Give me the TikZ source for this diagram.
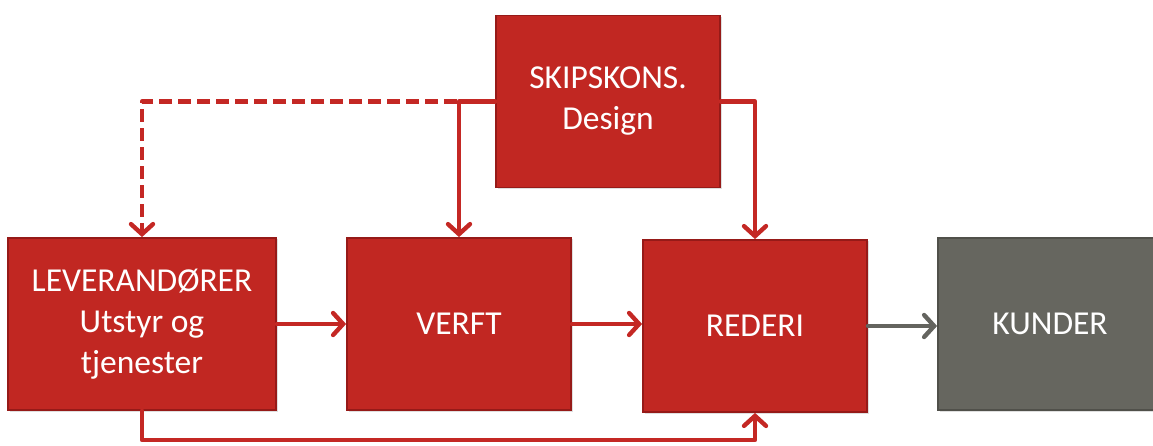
\documentclass[tikz,border=0pt]{standalone}
\usepackage{fontspec}
\setmainfont{Carlito}
\usetikzlibrary{arrows.meta,shadows}
\definecolor{boxred}{RGB}{193,39,34}
\definecolor{boxredline}{RGB}{150,26,24}
\definecolor{boxgray}{RGB}{102,102,95}
\definecolor{boxgrayline}{RGB}{80,80,74}
\definecolor{arrred}{RGB}{196,40,36}
\definecolor{arrgray}{RGB}{100,100,95}
\tikzset{
  redbox/.style={draw=boxredline, fill=boxred, line width=1.8pt, text=white, align=center,
    minimum width=224pt, minimum height=172pt, inner sep=0pt,
    font=\fontsize{33.5}{41}\selectfont,
    drop shadow={opacity=0.25, shadow xshift=1.5pt, shadow yshift=-1.5pt}},
  graybox/.style={redbox, draw=boxgrayline, fill=boxgray},
  conn/.style={draw=arrred, line width=4.4pt, line cap=round, line join=round,
    -{Straight Barb[length=10pt, width=22pt, line cap=round, line width=4.4pt]}},
  gconn/.style={conn, draw=arrgray},
  dconn/.style={conn, line cap=butt, dash pattern=on 13pt off 6pt}
}
\begin{document}
\begin{tikzpicture}[x=1pt,y=-1pt]
\useasboundingbox (0,0) rectangle (1153,446);
\clip (0,0) rectangle (1153,446);
\node[redbox] (skip) at (608,101.5) {SKIPSKONS.\\Design};
\node[redbox, minimum width=268pt] (lev) at (142,324) {LEVERAND\O RER\\Utstyr og\\tjenester};
\node[redbox] (verft) at (459,324) {VERFT};
\node[redbox] (rederi) at (755,326) {REDERI};
\node[graybox] (kunder) at (1050,324) {KUNDER};
\coordinate (low) at (142,440);
\draw[dconn] (skip.west) -| (lev.north);
\draw[conn] (skip.west) -| (verft.north);
\draw[conn] (skip.east) -| (rederi.north);
\draw[conn] (lev.east) -- (verft.west);
\draw[conn] (verft.east) -- (verft.east -| rederi.west);
\draw[gconn] (rederi.east) -- (rederi.east -| kunder.west);
\draw[conn] (lev.south) -- (low) -| (rederi.south);
\end{tikzpicture}
\end{document}
